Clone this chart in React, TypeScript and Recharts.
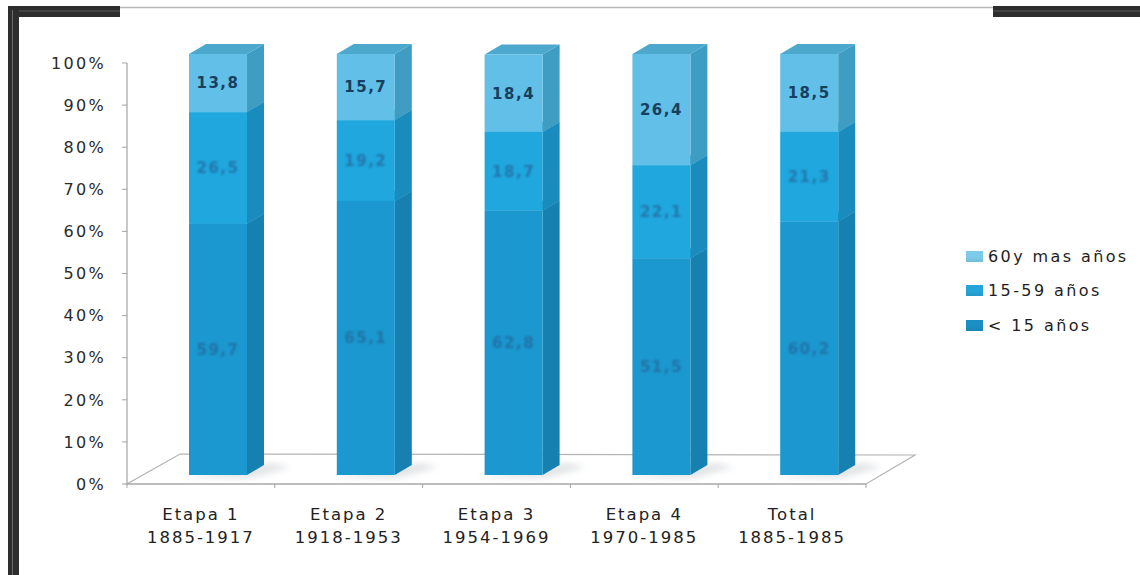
import React from 'react';
import { BarChart, Bar, XAxis, YAxis, LabelList } from 'recharts';

// ---- data ----
const stageNames = ['Etapa 1', 'Etapa 2', 'Etapa 3', 'Etapa 4', 'Total'];
const stagePeriods = ['1885-1917', '1918-1953', '1954-1969', '1970-1985', '1885-1985'];
const under15 = [59.7, 65.1, 62.8, 51.5, 60.2];
const age15to59 = [26.5, 19.2, 18.7, 22.1, 21.3];
const age60plus = [13.8, 15.7, 18.4, 26.4, 18.5];
const yTicks = [0, 10, 20, 30, 40, 50, 60, 70, 80, 90, 100];
const seriesLabels = ['< 15 años', '15-59 años', '60y mas años'];

const data = stageNames.map((name, i) => ({
  name,
  period: stagePeriods[i],
  u15: under15[i],
  a1559: age15to59[i],
  a60: age60plus[i],
}));

// ---- layout ----
const W = 1140;
const H = 575;
const PLOT_LEFT = 127;
const PLOT_RIGHT = 866;
const PLOT_TOP = 63;
const PLOT_BOTTOM = 484;
const X_AXIS_H = 60;

// floor depth of the pseudo-3D box, and bar placement inside it
const FLOOR_DX = 51;
const FLOOR_DY = -30;
const FRONT_DX = 17;
const FRONT_DY = -9;
const DEPTH_DX = 17;
const DEPTH_DY = -10;

const FONT = '"DejaVu Sans", Verdana, sans-serif';
const AXIS_GREY = '#a3a3a3';

type Palette = { front: string; side: string; top: string; legend: string };
const palU15: Palette = { front: '#1a98cf', side: '#1680b1', top: '#1b8fc2', legend: '#1b8fc4' };
const pal1559: Palette = { front: '#1fa7de', side: '#1a8bbd', top: '#2298c9', legend: '#27a5da' };
const pal60: Palette = { front: '#62c0e8', side: '#3f9dc4', top: '#4ca8cd', legend: '#7ccbea' };

const fmt = (v: number) => v.toFixed(1).replace('.', ',');

function makeBox(p: Palette, shadow: boolean) {
  return (props: any) => {
    const { x, y, width, height } = props;
    if (width == null || height == null || isNaN(y)) return null;
    const fx = x + FRONT_DX;
    const fy = y + FRONT_DY;
    const w = width;
    const h = height;
    const top = `${fx},${fy} ${fx + DEPTH_DX},${fy + DEPTH_DY} ${fx + w + DEPTH_DX},${fy + DEPTH_DY} ${fx + w},${fy}`;
    const side = `${fx + w},${fy} ${fx + w + DEPTH_DX},${fy + DEPTH_DY} ${fx + w + DEPTH_DX},${fy + h + DEPTH_DY} ${fx + w},${fy + h}`;
    const base = fy + h;
    const shadowPts = `${fx - 6},${base + 2} ${fx + w + 4},${base + 3} ${fx + w + DEPTH_DX + 26},${base + DEPTH_DY + 2} ${fx + w + DEPTH_DX + 8},${base + DEPTH_DY - 2}`;
    return (
      <g>
        {shadow && (
          <polygon points={shadowPts} fill="#c9ced2" opacity={0.55} style={{ filter: 'blur(3px)' }} />
        )}
        <polygon points={top} fill={p.top} />
        <polygon points={side} fill={p.side} />
        <rect x={fx} y={fy} width={w} height={h} fill={p.front} />
      </g>
    );
  };
}

function makeLabel(crisp: boolean) {
  return (props: any) => {
    const { x, y, width, height, value } = props;
    if (value == null) return null;
    const cx = x + width / 2 + FRONT_DX;
    const cy = y + height / 2 + FRONT_DY;
    return (
      <text
        x={cx}
        y={cy}
        dy="0.36em"
        textAnchor="middle"
        fontFamily={FONT}
        fontSize={15}
        fontWeight="bold"
        letterSpacing={1.5}
        fill={crisp ? '#173f5f' : '#23679a'}
        opacity={crisp ? 1 : 0.75}
        style={crisp ? undefined : { filter: 'blur(1px)' }}
      >
        {fmt(Number(value))}
      </text>
    );
  };
}

const bandHalf = (PLOT_RIGHT - PLOT_LEFT) / stageNames.length / 2;

const CategoryTick = (props: any) => {
  const { x, index, payload } = props;
  const d = data[index] || data.find((e) => e.name === payload?.value);
  const ay = PLOT_BOTTOM;
  return (
    <g>
      <line x1={x - bandHalf} x2={x - bandHalf} y1={ay} y2={ay + 4} stroke={AXIS_GREY} />
      {index === stageNames.length - 1 && (
        <line x1={x + bandHalf} x2={x + bandHalf} y1={ay} y2={ay + 4} stroke={AXIS_GREY} />
      )}
      <text x={x} y={ay + 36} textAnchor="middle" fontFamily={FONT} fontSize={16.5} letterSpacing={2} fill="#222">
        {payload.value}
      </text>
      <text x={x} y={ay + 59} textAnchor="middle" fontFamily={FONT} fontSize={16.5} letterSpacing={2} fill="#222">
        {d ? d.period : ''}
      </text>
    </g>
  );
};

const PercentTick = (props: any) => {
  const { y, payload } = props;
  return (
    <text x={106} y={y} dy="0.36em" textAnchor="end" fontFamily={FONT} fontSize={16} letterSpacing={2.3} fill="#2a2a2a">
      {`${payload.value}%`}
    </text>
  );
};

const legendItems = [
  { label: seriesLabels[2], color: pal60.legend },
  { label: seriesLabels[1], color: pal1559.legend },
  { label: seriesLabels[0], color: palU15.legend },
];

export default function App() {
  const floor = [
    [PLOT_LEFT, PLOT_BOTTOM],
    [PLOT_RIGHT, PLOT_BOTTOM],
    [PLOT_RIGHT + FLOOR_DX - 2, PLOT_BOTTOM + FLOOR_DY + 1],
    [PLOT_LEFT + FLOOR_DX + 2, PLOT_BOTTOM + FLOOR_DY],
  ]
    .map((p) => p.join(','))
    .join(' ');

  return (
    <div style={{ position: 'absolute', left: 0, top: 0, width: W, height: H, background: '#fff', overflow: 'hidden' }}>
      {/* page frame and chart floor */}
      <svg width={W} height={H} style={{ position: 'absolute', left: 0, top: 0 }}>
        <line x1={120} x2={993} y1={7.5} y2={7.5} stroke="#b8b8b8" strokeWidth={1.5} />
        <rect x={8} y={6} width={112} height={11} fill="#2d2d2d" />
        <rect x={993} y={6} width={147} height={11} fill="#2d2d2d" />
        <line x1={8} x2={120} y1={11} y2={11} stroke="#5a5a5a" strokeWidth={1} />
        <line x1={993} x2={1140} y1={11} y2={11} stroke="#5a5a5a" strokeWidth={1} />
        <rect x={8} y={6} width={11} height={H - 6} fill="#2d2d2d" />
        <line x1={12.5} x2={12.5} y1={10} y2={H} stroke="#6a6a6a" strokeWidth={1} />
        <polygon points={floor} fill="#ffffff" stroke="#b4b4b4" strokeWidth={1.2} />
      </svg>

      <div style={{ position: 'absolute', left: 0, top: 0 }}>
        <BarChart
          width={W}
          height={H}
          data={data}
          margin={{ top: PLOT_TOP, right: W - PLOT_RIGHT, bottom: H - PLOT_BOTTOM - X_AXIS_H, left: 0 }}
          barSize={58}
        >
          <XAxis
            dataKey="name"
            height={X_AXIS_H}
            interval={0}
            axisLine={{ stroke: AXIS_GREY, strokeWidth: 1.2 }}
            tickLine={false}
            tick={<CategoryTick />}
          />
          <YAxis
            width={PLOT_LEFT}
            domain={[0, 100]}
            ticks={yTicks}
            interval={0}
            axisLine={{ stroke: AXIS_GREY, strokeWidth: 1.2 }}
            tickLine={{ stroke: AXIS_GREY }}
            tickSize={5}
            tick={<PercentTick />}
          />
          <Bar dataKey="u15" stackId="s" fill={palU15.front} shape={makeBox(palU15, true)} isAnimationActive={false}>
            <LabelList dataKey="u15" content={makeLabel(false)} />
          </Bar>
          <Bar dataKey="a1559" stackId="s" fill={pal1559.front} shape={makeBox(pal1559, false)} isAnimationActive={false}>
            <LabelList dataKey="a1559" content={makeLabel(false)} />
          </Bar>
          <Bar dataKey="a60" stackId="s" fill={pal60.front} shape={makeBox(pal60, false)} isAnimationActive={false}>
            <LabelList dataKey="a60" content={makeLabel(true)} />
          </Bar>
        </BarChart>
      </div>

      {/* legend */}
      <div style={{ position: 'absolute', left: 966, top: 239, fontFamily: FONT, fontSize: 16, letterSpacing: 2.4, color: '#1e1e1e' }}>
        {legendItems.map((it) => (
          <div key={it.label} style={{ display: 'flex', alignItems: 'center', height: 34.5 }}>
            <span
              style={{
                display: 'inline-block',
                width: 17,
                height: 11,
                marginRight: 5,
                background: `linear-gradient(180deg, ${it.color} 0%, ${it.color} 55%, rgba(0,0,0,0.08) 100%), ${it.color}`,
              }}
            />
            <span style={{ whiteSpace: 'nowrap' }}>{it.label}</span>
          </div>
        ))}
      </div>
    </div>
  );
}
